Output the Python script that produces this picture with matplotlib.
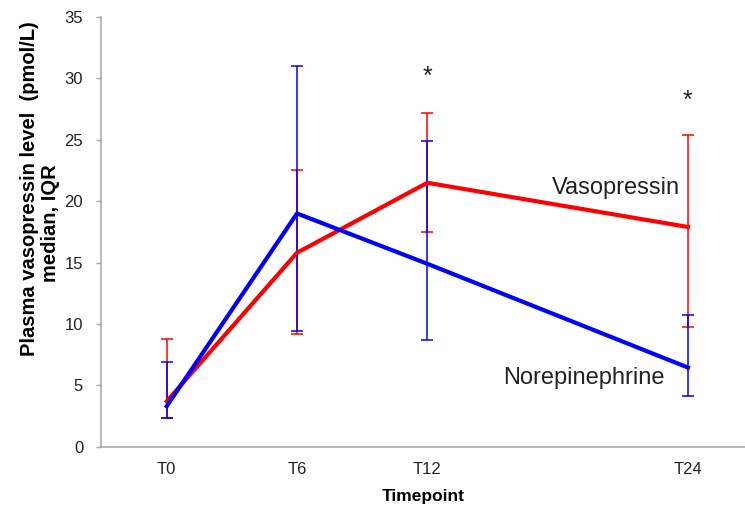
import matplotlib
matplotlib.use("Agg")
import matplotlib.pyplot as plt
import numpy as np

plt.rcParams["font.family"] = ["Liberation Sans", "DejaVu Sans"]

# hours after start, and their labels
hours = [0, 6, 12, 24]
tick_labels = ["T0", "T6", "T12", "T24"]

# vasopressin group: median and IQR
vaso_median = [3.7, 15.8, 21.5, 17.9]
vaso_q1 = [2.3, 9.2, 17.5, 9.75]
vaso_q3 = [8.8, 22.5, 27.15, 25.4]

# norepinephrine group: median and IQR
norepi_median = [3.3, 19.0, 14.9, 6.45]
norepi_q1 = [2.3, 9.4, 8.7, 4.1]
norepi_q3 = [6.9, 31.0, 24.9, 10.75]

# significance marks (time, height)
star_hours = [12, 24]
star_heights = [30.15, 28.2]

GREY = "#a6a6a6"

fig = plt.figure(figsize=(7.45, 5.16), dpi=100)
ax = fig.add_axes([0.1349, 0.1343, 1 - 0.1349, 0.967 - 0.1343])


def draw_series(ax, x, med, q1, q3, color):
    med = np.array(med)
    yerr = np.vstack([med - np.array(q1), np.array(q3) - med])
    ax.errorbar(x, med, yerr=yerr, color=color, lw=3, elinewidth=1.1,
                capsize=4.5, capthick=1.1)


draw_series(ax, hours, vaso_median, vaso_q1, vaso_q3, "#ff0000")
draw_series(ax, hours, norepi_median, norepi_q1, norepi_q3, "#0000ff")

for h, s in zip(star_hours, star_heights):
    ax.text(h, s, "*", ha="center", va="center", fontsize=18, color="#222222")

ax.text(17.73, 20.58, "Vasopressin", ha="left", va="baseline", fontsize=17, color="#222222")
ax.text(15.5, 5.1, "Norepinephrine", ha="left", va="baseline", fontsize=17, color="#222222")

ax.set_xlim(-3.05, 26.63)
ax.set_ylim(0, 35)
ax.set_yticks(np.arange(0, 36, 5))
ax.set_xticks(hours)
ax.set_xticklabels(tick_labels)

ax.spines["top"].set_visible(False)
ax.spines["right"].set_visible(False)
ax.spines["left"].set_color(GREY)
ax.spines["bottom"].set_color(GREY)
ax.spines["left"].set_linewidth(1.1)
ax.spines["bottom"].set_linewidth(1.1)

ax.tick_params(axis="y", length=3.5, width=1.0, color=GREY, pad=9,
               labelsize=12, labelcolor="#222222")
ax.tick_params(axis="x", length=0, pad=11, labelsize=12, labelcolor="#222222")

ax.set_xlabel("Timepoint", fontsize=12.5, fontweight="bold", labelpad=9)

fig.text(30 / 745, 1 - 189 / 516, "Plasma vasopressin level  (pmol/L)",
         rotation=90, ha="center", va="center", fontsize=14.5, fontweight="bold")
fig.text(51 / 745, 1 - 223 / 516, "median, IQR",
         rotation=90, ha="center", va="center", fontsize=14.5, fontweight="bold")

fig.savefig("out.png", dpi=100)
